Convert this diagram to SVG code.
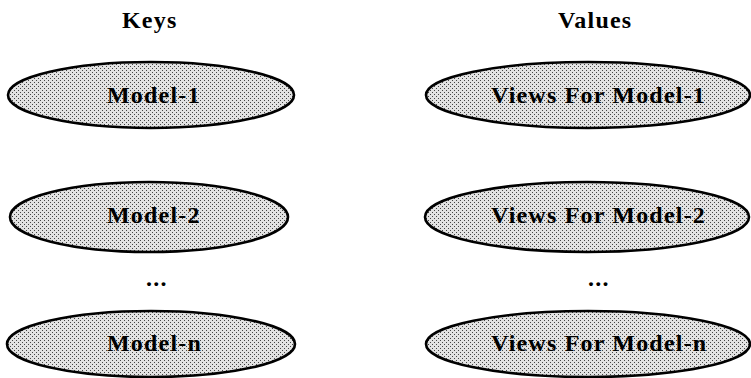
<svg xmlns="http://www.w3.org/2000/svg" width="751" height="378" viewBox="0 0 751 378">
<defs>
<pattern id="dots" width="4" height="4" patternUnits="userSpaceOnUse">
<rect width="4" height="4" fill="#e2e2e2"/>
<rect x="0" y="0" width="1" height="1" fill="#444"/>
<rect x="2" y="2" width="1" height="1" fill="#444"/>
</pattern>
</defs>
<style>
.node ellipse{fill:url(#dots);stroke:#000;stroke-width:2.6}
text{font-family:"Liberation Serif","Times New Roman",serif;font-weight:bold;font-size:24px;fill:#000;letter-spacing:1.2px}
</style>
<rect width="751" height="378" fill="#fff"/>
<g id="headers">
<text x="122" y="28">Keys</text>
<text x="558" y="28">Values</text>
</g>
<g id="connectors"></g>
<g id="key1" class="node"><ellipse cx="151" cy="95" rx="143" ry="33"/><text x="107" y="103">Model-1</text></g>
<g id="key2" class="node"><ellipse cx="149" cy="217" rx="139" ry="35"/><text x="107" y="223">Model-2</text></g>
<g id="keyn" class="node"><ellipse cx="151" cy="344" rx="144" ry="33"/><text x="107" y="351">Model-n</text></g>
<g id="val1" class="node"><ellipse cx="588" cy="95" rx="162" ry="33"/><text x="491" y="103">Views For Model-1</text></g>
<g id="val2" class="node"><ellipse cx="587" cy="217" rx="162" ry="35"/><text x="491" y="223">Views For Model-2</text></g>
<g id="valn" class="node"><ellipse cx="588" cy="344" rx="162" ry="33"/><text x="491" y="351">Views For Model-n</text></g>
<g id="ellipsis">
<text x="146" y="286" letter-spacing="0" font-size="22">...</text>
<text x="588" y="286" letter-spacing="0" font-size="22">...</text>
</g>
</svg>
